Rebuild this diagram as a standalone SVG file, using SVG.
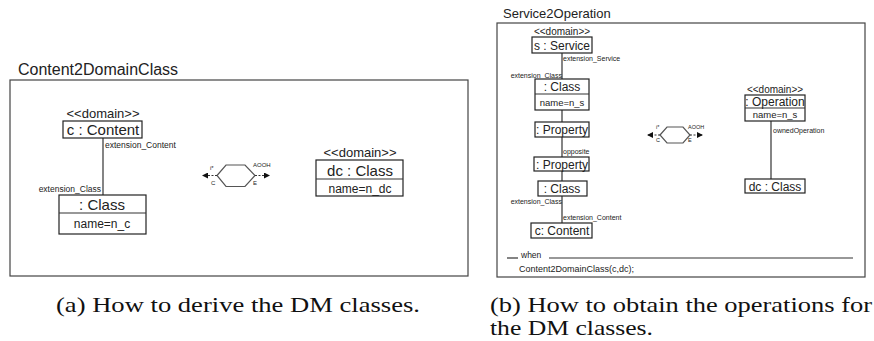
<svg xmlns="http://www.w3.org/2000/svg" width="874" height="341" viewBox="0 0 874 341">
<defs>
<style>
text{font-family:"Liberation Sans","DejaVu Sans",sans-serif;fill:#222}
.box{fill:#fff;stroke:#222;stroke-width:1.2}
.frame{fill:none;stroke:#444;stroke-width:1.2}
.conn{fill:none;stroke:#333;stroke-width:1.2}
.dash{fill:none;stroke:#333;stroke-width:1;stroke-dasharray:2,1.5}
.hex{fill:none;stroke:#555;stroke-width:1.2}
.cap{font-family:"Liberation Serif","DejaVu Serif",serif;font-size:21px;fill:#111}
.mid{text-anchor:middle}
.end{text-anchor:end}
</style>
<marker id="ah" markerWidth="6" markerHeight="6" refX="5" refY="3" orient="auto" markerUnits="userSpaceOnUse">
<path d="M0,0 L6,3 L0,6 Z" fill="#111"/>
</marker>
</defs>

<!-- Left panel -->
<g id="frameA">
<text x="18" y="75" font-size="16">Content2DomainClass</text>
<rect class="frame" x="10" y="80" width="458" height="196"/>
</g>

<g id="connectorsA">
<line class="conn" x1="103" y1="138" x2="103" y2="195"/>
<text x="105" y="148" font-size="8.5">extension_Content</text>
<text x="101" y="192" font-size="8.5" class="end">extension_Class</text>
</g>

<g id="cContent">
<text x="103" y="118" font-size="13" class="mid">&lt;&lt;domain&gt;&gt;</text>
<rect class="box" x="63" y="121" width="79" height="17"/>
<text x="103" y="135" font-size="15" class="mid">c : Content</text>
</g>

<g id="classA">
<rect class="box" x="59" y="195" width="87" height="39"/>
<line class="conn" x1="59" y1="213" x2="146" y2="213"/>
<text x="102" y="210" font-size="15" class="mid">: Class</text>
<text x="102" y="228" font-size="12" class="mid">name=n_c</text>
</g>

<g id="dcClassA">
<text x="360" y="157" font-size="13" class="mid">&lt;&lt;domain&gt;&gt;</text>
<rect class="box" x="316" y="160" width="87" height="36"/>
<line class="conn" x1="316" y1="179" x2="403" y2="179"/>
<text x="360" y="176" font-size="15" class="mid">dc : Class</text>
<text x="360" y="193" font-size="12" class="mid">name=n_dc</text>
</g>

<g id="hexA">
<polygon class="hex" points="217,175.5 226,165 245,165 255,175.5 245,186.5 226,186.5"/>
<line class="dash" x1="217" y1="175.5" x2="203" y2="175.5" marker-end="url(#ah)"/>
<line class="dash" x1="255" y1="175.5" x2="269" y2="175.5" marker-end="url(#ah)"/>
<text x="210" y="170" font-size="6">i*</text>
<text x="211" y="185" font-size="6">C</text>
<text x="253" y="167" font-size="6">AOOH</text>
<text x="253" y="185" font-size="6">E</text>
</g>

<!-- Right panel -->
<g id="frameB">
<text x="503" y="18" font-size="13">Service2Operation</text>
<rect class="frame" x="497" y="23" width="368" height="254"/>
<line class="conn" x1="507" y1="258" x2="518" y2="258" stroke-width="0.8"/>
<text x="521" y="258" font-size="8.5">when</text>
<line class="conn" x1="549" y1="258" x2="853" y2="258" stroke-width="0.8"/>
<text x="519" y="272" font-size="9">Content2DomainClass(c,dc);</text>
</g>

<g id="connectorsB">
<line class="conn" x1="562" y1="53" x2="562" y2="223"/>
<line class="conn" x1="771" y1="121" x2="771" y2="179"/>
<text x="563" y="61" font-size="7">extension_Service</text>
<text x="562" y="78" font-size="7" class="end">extension_Class</text>
<text x="563" y="154" font-size="7">opposite</text>
<text x="562" y="204" font-size="7" class="end">extension_Class</text>
<text x="563" y="220" font-size="7">extension_Content</text>
<text x="773" y="133" font-size="7">ownedOperation</text>
</g>

<g id="sService">
<text x="562" y="35" font-size="10" class="mid">&lt;&lt;domain&gt;&gt;</text>
<rect class="box" x="532" y="37" width="60" height="16"/>
<text x="562" y="50" font-size="12" class="mid">s : Service</text>
</g>

<g id="classB1">
<rect class="box" x="535" y="79" width="54" height="31"/>
<line class="conn" x1="535" y1="94" x2="589" y2="94"/>
<text x="562" y="91" font-size="12" class="mid">: Class</text>
<text x="562" y="106" font-size="9.5" class="mid">name=n_s</text>
</g>

<g id="property1">
<rect class="box" x="535" y="122" width="54" height="15"/>
<text x="562" y="134" font-size="12" class="mid">: Property</text>
</g>

<g id="property2">
<rect class="box" x="534" y="157" width="55" height="14"/>
<text x="562" y="168.5" font-size="12" class="mid">: Property</text>
</g>

<g id="classB2">
<rect class="box" x="538" y="181" width="49" height="15"/>
<text x="562" y="193" font-size="12" class="mid">: Class</text>
</g>

<g id="cContentB">
<rect class="box" x="531" y="223" width="61" height="15"/>
<text x="562" y="235" font-size="12" class="mid">c: Content</text>
</g>

<g id="operation">
<text x="775" y="93" font-size="10" class="mid">&lt;&lt;domain&gt;&gt;</text>
<rect class="box" x="745" y="95" width="60" height="26"/>
<line class="conn" x1="745" y1="108" x2="805" y2="108"/>
<text x="775" y="105.5" font-size="12" class="mid">: Operation</text>
<text x="775" y="118" font-size="9.5" class="mid">name=n_s</text>
</g>

<g id="dcClassB">
<rect class="box" x="745" y="179" width="60" height="14"/>
<text x="775" y="190.5" font-size="12" class="mid">dc : Class</text>
</g>

<g id="hexB">
<polygon class="hex" points="660,135 667,127 683,127 690,135 683,143 667,143"/>
<line class="dash" x1="660" y1="135" x2="648" y2="135" marker-end="url(#ah)"/>
<line class="dash" x1="690" y1="135" x2="702" y2="135" marker-end="url(#ah)"/>
<text x="656" y="129" font-size="5.5">i*</text>
<text x="656" y="142" font-size="5.5">C</text>
<text x="688" y="129" font-size="5.5">AOOH</text>
<text x="688" y="142" font-size="5.5">E</text>
</g>

<!-- Captions -->
<text class="cap" x="56" y="312" textLength="364" lengthAdjust="spacingAndGlyphs">(a) How to derive the DM classes.</text>
<text class="cap" x="490" y="312" textLength="382" lengthAdjust="spacingAndGlyphs">(b) How to obtain the operations for</text>
<text class="cap" x="490" y="335" textLength="163" lengthAdjust="spacingAndGlyphs">the DM classes.</text>
</svg>
